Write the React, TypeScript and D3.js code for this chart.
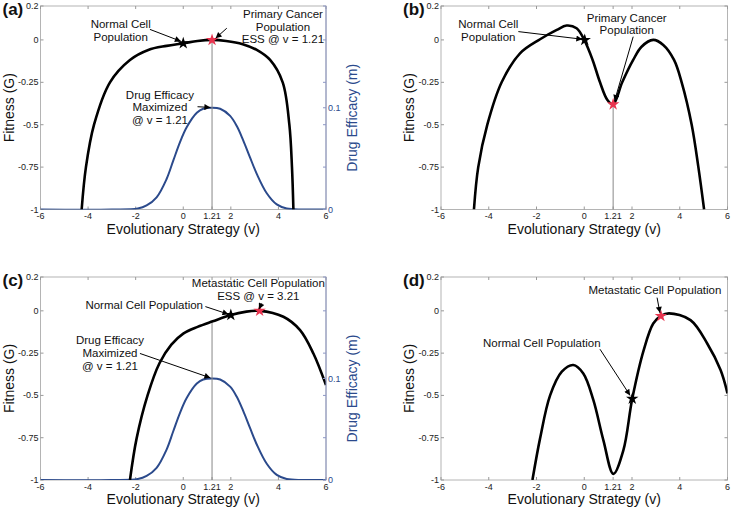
import React, { useRef, useEffect } from 'react'
import * as d3 from 'd3'

// axis ticks
const xTicks = [-6, -4, -2, 0, 1.21, 2, 4, 6]
const yTicks = [0.2, 0, -0.25, -0.5, -0.75, -1]
const drugTicks = [0, 0.1]

// fitness curves
const fitA_v = [-4.27, -4.09, -3.75, -3.08, -2.24, -1.47, -0.7, 0, 0.6, 1.21, 1.8, 2.5, 3.09, 3.65, 4.18, 4.46, 4.57, 4.63]
const fitA_g = [-1, -0.75, -0.5, -0.25, -0.118, -0.059, -0.035, -0.02, -0.006, 0, -0.006, -0.025, -0.059, -0.118, -0.25, -0.5, -0.75, -1]

const fitB_v = [-4.62, -4.44, -4.06, -3.46, -2.69, -1.85, -1.15, -0.74, -0.32, 0, 0.35, 0.66, 0.97, 1.21, 1.59, 2.05, 2.4, 2.89, 3.31, 3.76, 4.08, 4.5, 4.78, 5.02]
const fitB_g = [-1, -0.75, -0.5, -0.25, -0.079, 0.004, 0.059, 0.085, 0.069, 0, -0.118, -0.25, -0.354, -0.38, -0.25, -0.118, -0.04, 0, -0.03, -0.118, -0.25, -0.5, -0.75, -1]

const fitC_v = [-2.24, -1.96, -1.5, -1.0, -0.5, 0, 0.6, 1.24, 2.0, 2.6, 3.21, 4.21, 4.91, 5.47, 6.0]
const fitC_g = [-1, -0.754, -0.5, -0.31, -0.2, -0.135, -0.095, -0.062, -0.025, -0.006, 0, -0.035, -0.114, -0.252, -0.439]

const fitD_v = [-2.17, -1.85, -1.43, -0.94, -0.46, -0.04, 0.38, 0.8, 1.22, 1.64, 2.01, 2.49, 2.89, 3.21, 3.55, 4.45, 5.15, 5.71, 6.0]
const fitD_g = [-1, -0.754, -0.5, -0.36, -0.32, -0.37, -0.527, -0.764, -0.964, -0.823, -0.52, -0.232, -0.075, -0.03, -0.015, -0.055, -0.193, -0.35, -0.488]

// drug efficacy (same in a and c)
const drug_v = [-6, -3, -1.91, -1.54, -1.12, -0.7, -0.42, -0.14, 0.15, 0.57, 0.84, 1.21, 1.55, 1.97, 2.25, 2.52, 2.81, 3.09, 3.51, 3.93, 4.35, 5, 6]
const drug_m = [0, 0, 0.001, 0.004, 0.012, 0.03, 0.048, 0.066, 0.081, 0.095, 0.099, 0.1, 0.099, 0.092, 0.082, 0.068, 0.051, 0.035, 0.016, 0.005, 0.001, 0, 0]

const FONT = 'Liberation Sans, Arial, Helvetica, sans-serif'
const BLUE = '#2b4a8c'

type Note = { lines: string[]; at: [number, number]; from: [number, number]; to: [number, number] }

function App() {
  const ref = useRef<SVGSVGElement>(null)

  useEffect(() => {
    const svg = d3.select(ref.current)
    svg.selectAll('*').remove()

    svg.append('defs').append('marker')
      .attr('id', 'arr')
      .attr('viewBox', '0 0 10 10')
      .attr('refX', 10).attr('refY', 5)
      .attr('markerWidth', 8).attr('markerHeight', 6)
      .attr('markerUnits', 'userSpaceOnUse')
      .attr('orient', 'auto')
      .append('path').attr('d', 'M0,0L10,5L0,10z').attr('fill', '#000')

    const panels = [
      {
        label: '(a)', left: 40.5, top: 6, right: 326, bottom: 209.5,
        v: fitA_v, g: fitA_g, drug: true, vlineTop: 0,
        black: [0, -0.02], red: [1.21, 0],
        notes: [
          { lines: ['Normal Cell', 'Population'], at: [-2.63, 0.071], from: [-1.4, 0.062], to: [-0.1, -0.008] },
          { lines: ['Primary Cancer', 'Population', 'ESS @ v = 1.21'], at: [4.19, 0.13], from: [1.83, 0.069], to: [1.36, 0.01] },
          { lines: ['Drug Efficacy', 'Maximized', '@ v = 1.21'], at: [-0.98, -0.347], from: [0.6, -0.394], to: [1.14, -0.398] },
        ] as Note[],
      },
      {
        label: '(b)', left: 441, top: 6, right: 727.5, bottom: 209.5,
        v: fitB_v, g: fitB_g, drug: false, vlineTop: -0.38,
        black: [0.02, 0], red: [1.21, -0.38],
        notes: [
          { lines: ['Normal Cell', 'Population'], at: [-4.02, 0.069], from: [-2.76, 0.049], to: [-0.08, 0.004] },
          { lines: ['Primary Cancer', 'Population'], at: [1.78, 0.108], from: [2.05, 0.019], to: [1.27, -0.36] },
        ] as Note[],
      },
      {
        label: '(c)', left: 40.5, top: 277, right: 326, bottom: 480,
        v: fitC_v, g: fitC_g, drug: true, vlineTop: -0.063,
        black: [2, -0.025], red: [3.21, 0],
        notes: [
          { lines: ['Metastatic Cell Population', 'ESS @ v = 3.21'], at: [3.155, 0.138], from: [3.3, 0.044], to: [3.18, 0.01] },
          { lines: ['Normal Cell Population'], at: [-1.64, 0.008], from: [0.93, 0.025], to: [1.9, -0.02] },
          { lines: ['Drug Efficacy', 'Maximized', '@ v = 1.21'], at: [-3.08, -0.197], from: [-1.82, -0.252], to: [1.14, -0.396] },
        ] as Note[],
      },
      {
        label: '(d)', left: 441, top: 277, right: 727.5, bottom: 480,
        v: fitD_v, g: fitD_g, drug: false, vlineTop: null,
        black: [2.01, -0.52], red: [3.21, -0.03],
        notes: [
          { lines: ['Metastatic Cell Population'], at: [2.96, 0.097], from: [3.05, 0.078], to: [3.17, -0.012] },
          { lines: ['Normal Cell Population'], at: [-1.78, -0.213], from: [0.66, -0.227], to: [1.92, -0.5] },
        ] as Note[],
      },
    ]

    panels.forEach((p, pi) => {
      const x = d3.scaleLinear().domain([-6, 6]).range([p.left, p.right])
      const y = d3.scaleLinear().domain([-1, 0.2]).range([p.bottom, p.top])
      const yDrug = d3.scaleLinear().domain([0, 0.2]).range([p.bottom, p.top])
      const g = svg.append('g')

      // frame
      g.append('rect')
        .attr('x', p.left).attr('y', p.top)
        .attr('width', p.right - p.left).attr('height', p.bottom - p.top)
        .attr('fill', '#fff').attr('stroke', '#b4b4b4').attr('stroke-width', 1)

      // x ticks (bottom + mirrored top)
      xTicks.forEach(t => {
        g.append('line').attr('x1', x(t)).attr('x2', x(t)).attr('y1', p.bottom).attr('y2', p.bottom - 3).attr('stroke', '#999')
        g.append('line').attr('x1', x(t)).attr('x2', x(t)).attr('y1', p.top).attr('y2', p.top + 3).attr('stroke', '#999')
        g.append('text').attr('x', x(t)).attr('y', p.bottom + 9.5)
          .attr('text-anchor', 'middle').attr('font-size', 9).attr('font-family', FONT).attr('fill', '#222')
          .text(String(t))
      })
      // y ticks (left + mirrored right)
      yTicks.forEach(t => {
        g.append('line').attr('x1', p.left).attr('x2', p.left + 3).attr('y1', y(t)).attr('y2', y(t)).attr('stroke', '#999')
        g.append('line').attr('x1', p.right).attr('x2', p.right - 3).attr('y1', y(t)).attr('y2', y(t)).attr('stroke', p.drug ? '#8c96c4' : '#999')
        g.append('text').attr('x', p.left - 2).attr('y', y(t) + 3)
          .attr('text-anchor', 'end').attr('font-size', 9).attr('font-family', FONT).attr('fill', '#222')
          .text(String(t))
      })

      // axis titles
      g.append('text')
        .attr('x', (p.left + p.right) / 2).attr('y', p.bottom + 24)
        .attr('text-anchor', 'middle').attr('font-size', 14).attr('font-family', FONT).attr('fill', '#111')
        .text('Evolutionary Strategy (v)')
      g.append('text')
        .attr('transform', `translate(${p.left - 27},${(p.top + p.bottom) / 2}) rotate(-90)`)
        .attr('text-anchor', 'middle').attr('font-size', 14).attr('font-family', FONT).attr('fill', '#111')
        .text('Fitness (G)')

      g.append('text')
        .attr('x', p.left - 38).attr('y', p.top + 9)
        .attr('font-size', 17).attr('font-weight', 'bold').attr('font-family', FONT).attr('fill', '#111')
        .text(p.label)

      const clipId = 'clip' + pi
      svg.select('defs').append('clipPath').attr('id', clipId)
        .append('rect').attr('x', p.left).attr('y', p.top - 2)
        .attr('width', p.right - p.left).attr('height', p.bottom - p.top + 2)

      const plot = g.append('g').attr('clip-path', `url(#${clipId})`)

      if (p.drug) {
        // right axis
        g.append('line').attr('x1', p.right).attr('x2', p.right).attr('y1', p.top).attr('y2', p.bottom)
          .attr('stroke', '#8c96c4').attr('stroke-width', 1)
        drugTicks.forEach(t => {
          g.append('line').attr('x1', p.right).attr('x2', p.right - 3).attr('y1', yDrug(t)).attr('y2', yDrug(t)).attr('stroke', '#8c96c4')
          g.append('text').attr('x', p.right + 2).attr('y', yDrug(t) + 3)
            .attr('font-size', 9).attr('font-family', FONT).attr('fill', BLUE)
            .text(String(t))
        })
        g.append('text')
          .attr('transform', `translate(${p.right + 31},${(p.top + p.bottom) / 2 + 10}) rotate(-90)`)
          .attr('text-anchor', 'middle').attr('font-size', 14).attr('font-family', FONT).attr('fill', BLUE)
          .text('Drug Efficacy (m)')

        const drugLine = d3.line<number>()
          .x((_, i) => x(drug_v[i]))
          .y(d => yDrug(d))
          .curve(d3.curveCatmullRom.alpha(0.5))
        plot.append('path').datum(drug_m)
          .attr('d', drugLine)
          .attr('fill', 'none').attr('stroke', BLUE).attr('stroke-width', 2)
      }

      if (p.vlineTop !== null) {
        plot.append('line')
          .attr('x1', x(1.21)).attr('x2', x(1.21))
          .attr('y1', y(p.vlineTop)).attr('y2', y(-1))
          .attr('stroke', '#888').attr('stroke-width', 1)
      }

      const fitLine = d3.line<number>()
        .x((_, i) => x(p.v[i]))
        .y(d => y(d))
        .curve(d3.curveCatmullRom.alpha(0.5))
      plot.append('path').datum(p.g)
        .attr('d', fitLine)
        .attr('fill', 'none').attr('stroke', '#000').attr('stroke-width', 2.6)

      // stars
      const star = d3.symbol().type(d3.symbolStar).size(48)
      g.append('path').attr('d', star()).attr('transform', `translate(${x(p.black[0])},${y(p.black[1])})`)
        .attr('fill', '#000')
      g.append('path').attr('d', star()).attr('transform', `translate(${x(p.red[0])},${y(p.red[1])})`)
        .attr('fill', '#e8344f')

      // annotations
      p.notes.forEach(n => {
        const t = g.append('text')
          .attr('x', x(n.at[0])).attr('y', y(n.at[1]))
          .attr('text-anchor', 'middle').attr('font-size', 11.5).attr('font-family', FONT).attr('fill', '#111')
        n.lines.forEach((l, li) => {
          t.append('tspan').attr('x', x(n.at[0])).attr('dy', li === 0 ? 0 : 12.7).text(l)
        })
        g.append('line')
          .attr('x1', x(n.from[0])).attr('y1', y(n.from[1]))
          .attr('x2', x(n.to[0])).attr('y2', y(n.to[1]))
          .attr('stroke', '#000').attr('stroke-width', 1)
          .attr('marker-end', 'url(#arr)')
      })
    })
  }, [])

  return (
    <svg ref={ref} width={733} height={510}
      style={{ position: 'absolute', left: 0, top: 0, background: '#fff' }} />
  )
}

export default App
